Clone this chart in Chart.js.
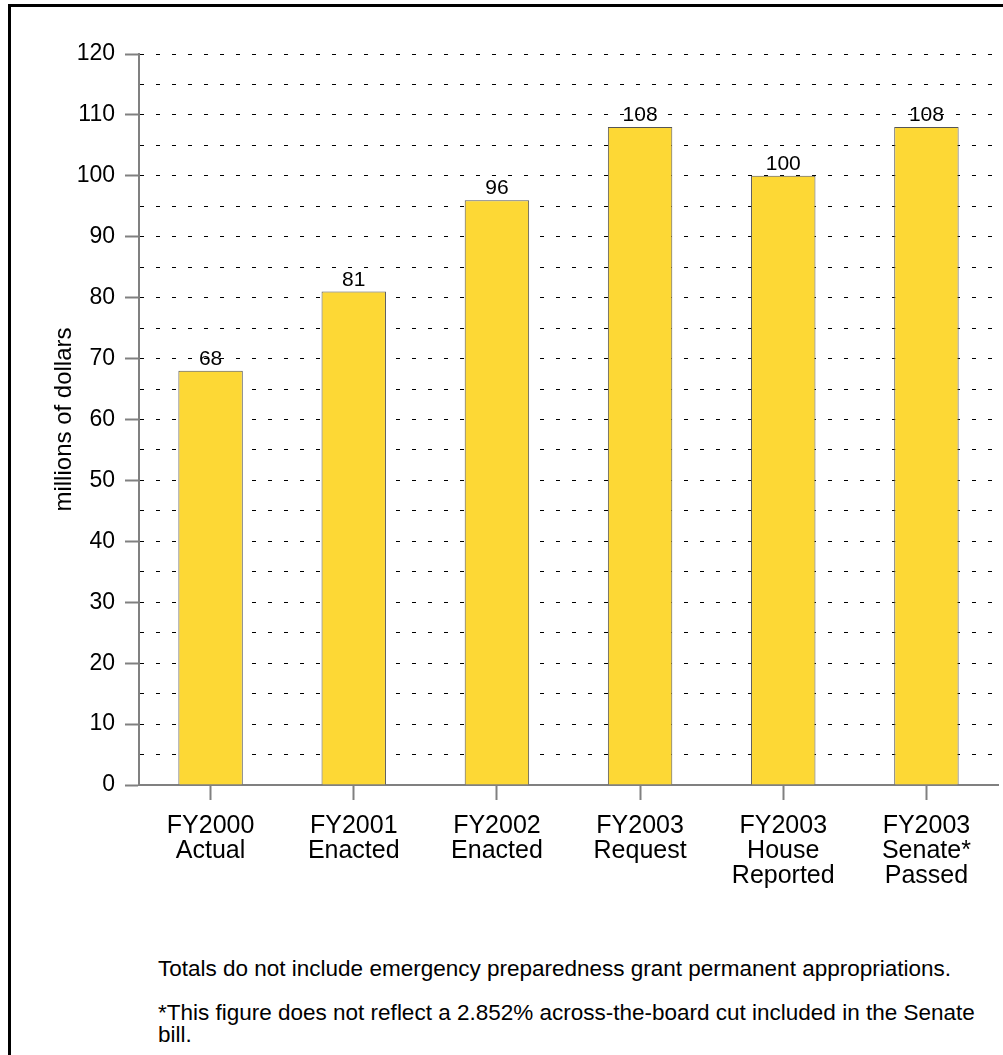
<!DOCTYPE html>
<html>
<head>
<meta charset="utf-8">
<script src="https://cdn.jsdelivr.net/npm/chart.js@4/dist/chart.umd.min.js"></script>
<style>
  html, body { margin: 0; padding: 0; background: #fff; overflow: hidden; }
  body { width: 1003px; height: 1055px; position: relative; font-family: "Liberation Sans", Arial, sans-serif; }
  #frame { position: absolute; left: 8px; top: 4px; width: 1000px; height: 1060px;
           border-left: 3px solid #000; border-top: 3px solid #000; box-sizing: border-box; }
  #wrap { position: absolute; left: 0; top: 0; width: 1003px; height: 900px; }
  .note { position: absolute; left: 158px; font-size: 22.5px; line-height: 22px; color: #000; white-space: nowrap; }
</style>
</head>
<body>
<div id="frame"></div>
<div id="wrap"><canvas id="grafico_barra"></canvas></div>
<div class="note" style="top:958px">Totals do not include emergency preparedness grant permanent appropriations.</div>
<div class="note" style="top:1002px">*This figure does not reflect a 2.852% across-the-board cut included in the Senate<br>bill.</div>
<script>
var anos = [
  ["FY2000", "Actual"],
  ["FY2001", "Enacted"],
  ["FY2002", "Enacted"],
  ["FY2003", "Request"],
  ["FY2003", "House", "Reported"],
  ["FY2003", "Senate*", "Passed"]
];
var valores = [68, 81, 96, 108, 100, 108];
var eixoMin = 0;
var eixoMax = 120;
var passo = 5;

var fonte = "'Liberation Sans', Arial, sans-serif";
var cinza = "#808080";

// escreve o valor em cima de cada barra
var rotulos = {
  id: 'rotulos',
  afterDatasetsDraw: function(chart) {
    var ctx = chart.ctx;
    var meta = chart.getDatasetMeta(0);
    ctx.save();
    ctx.font = "21px " + fonte;
    ctx.fillStyle = "#000";
    ctx.textAlign = "center";
    ctx.textBaseline = "bottom";
    meta.data.forEach(function(bar, i) {
      ctx.fillText(valores[i], bar.x, bar.y - 1);
    });
    ctx.restore();
  }
};

new Chart(document.getElementById("grafico_barra"), {
  type: 'bar',
  data: {
    labels: anos,
    datasets: [{
      data: valores,
      backgroundColor: "#fdd835",
      borderColor: "#555555",
      borderWidth: 1,
      barPercentage: 0.45,
      categoryPercentage: 1
    }]
  },
  options: {
    responsive: true,
    maintainAspectRatio: false,
    animation: false,
    layout: { padding: { top: 54, right: 5, left: 0, bottom: 0 } },
    plugins: {
      legend: { display: false },
      tooltip: { enabled: false }
    },
    scales: {
      x: {
        offset: true,
        grid: {
          offset: false,
          drawOnChartArea: false,
          tickLength: 15,
          tickColor: cinza,
          tickWidth: 2
        },
        border: { color: cinza, width: 2 },
        ticks: {
          color: "#000",
          padding: 14,
          maxRotation: 0,
          autoSkip: false,
          font: { family: fonte, size: 25, lineHeight: "25px" }
        },
        afterFit: function(scale) { scale.height = 115; }
      },
      y: {
        min: eixoMin,
        max: eixoMax,
        grid: {
          color: function(c) { return c.tick && c.tick.value === 0 ? "transparent" : "#000"; },
          lineWidth: 1,
          tickLength: 14,
          tickWidth: 2,
          tickColor: function(c) { return c.tick && c.tick.value % 10 === 0 ? cinza : "transparent"; }
        },
        border: { color: cinza, width: 2, dash: [4, 12] },
        ticks: {
          stepSize: passo,
          autoSkip: false,
          color: "#000",
          padding: 10,
          font: { family: fonte, size: 23 },
          callback: function(v) { return v % 10 === 0 ? v : ""; }
        },
        title: {
          display: true,
          text: "millions of dollars",
          color: "#000",
          font: { family: fonte, size: 24 },
          padding: { top: 50 }
        },
        afterFit: function(scale) { scale.width = 139; }
      }
    }
  },
  plugins: [rotulos]
});
</script>
</body>
</html>
